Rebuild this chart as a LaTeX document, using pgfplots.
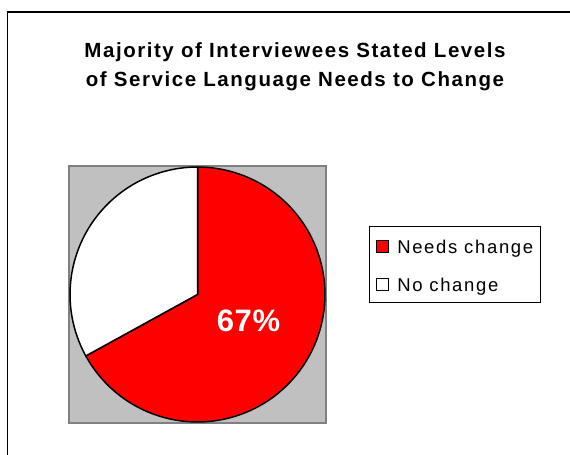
\documentclass[border=0pt]{standalone}
\usepackage{fontspec}
\setmainfont{Liberation Sans}
\newfontfamily\titlefont{Liberation Sans}[LetterSpace=7.5]
\newfontfamily\legfont{Liberation Sans}[LetterSpace=9]
\newfontfamily\pctfont{Liberation Sans}[LetterSpace=2]
\usepackage{pgfplots}
\usepackage{pgfplotstable}
\pgfplotsset{compat=1.18}
\definecolor{pieRed}{HTML}{FF0000}
\definecolor{plotGray}{HTML}{C0C0C0}
\definecolor{plotBorder}{HTML}{808080}
\pgfplotstableread{
label value
Needs 67
No 33
}\piedata
\begin{document}
\begin{tikzpicture}
\pgfplotstablegetelem{0}{value}\of\piedata \let\vA\pgfplotsretval
\pgfplotstablegetelem{1}{value}\of\piedata \let\vB\pgfplotsretval
\pgfmathsetmacro\angA{\vA/(\vA+\vB)*360}
\pgfmathsetmacro\startA{90-\angA}
\pgfmathsetmacro\endB{450-\angA}
\useasboundingbox (0,0) rectangle (570bp,455bp);
\draw[line width=1.2bp] (7.5bp,0) -- (7.5bp,443bp) -- (570bp,443bp);
\node[font=\titlefont\bfseries\fontsize{20.5bp}{29bp}\selectfont, anchor=base, inner sep=0pt] at (295bp,397bp) {Majority of Interviewees Stated Levels};
\node[font=\titlefont\bfseries\fontsize{20.5bp}{29bp}\selectfont, anchor=base, inner sep=0pt] at (295bp,368bp) {of Service Language Needs to Change};
\begin{axis}[
  at={(69bp,32bp)}, anchor=south west,
  scale only axis, width=257bp, height=257bp,
  xmin=-1.008, xmax=1.008, ymin=-1.008, ymax=1.008,
  xtick=\empty, ytick=\empty,
  axis background/.style={fill=plotGray},
  axis line style={draw=plotBorder, line width=1.6bp},
  clip=false,
  legend style={at={(1.167,0.767)}, anchor=north west, draw=black, line width=0.9bp, fill=white,
    font=\legfont\fontsize{18.5bp}{22bp}\selectfont,
    inner xsep=7bp, inner ysep=7bp, row sep=14bp, column sep=8bp,
    nodes={inner sep=0pt, text height=20bp, text depth=4bp}},
  legend cell align=left,
  legend image code/.code={\draw[#1, line width=0.9bp] (0bp,-7bp) rectangle (12bp,5bp);},
]
\addplot[fill=pieRed, draw=black, line width=1.5bp, domain=\startA:90, samples=150, variable=\t] ({cos(\t)},{sin(\t)}) -- (axis cs:0,0) -- cycle;
\addlegendentry{Needs change}
\addplot[fill=white, draw=black, line width=1.5bp, domain=90:\endB, samples=80, variable=\t] ({cos(\t)},{sin(\t)}) -- (axis cs:0,0) -- cycle;
\addlegendentry{No change}
\node[text=white, font=\pctfont\bfseries\fontsize{31bp}{36bp}\selectfont, inner sep=0pt] at (axis cs:0.40,-0.21) {67\%};
\end{axis}
\end{tikzpicture}
\end{document}
